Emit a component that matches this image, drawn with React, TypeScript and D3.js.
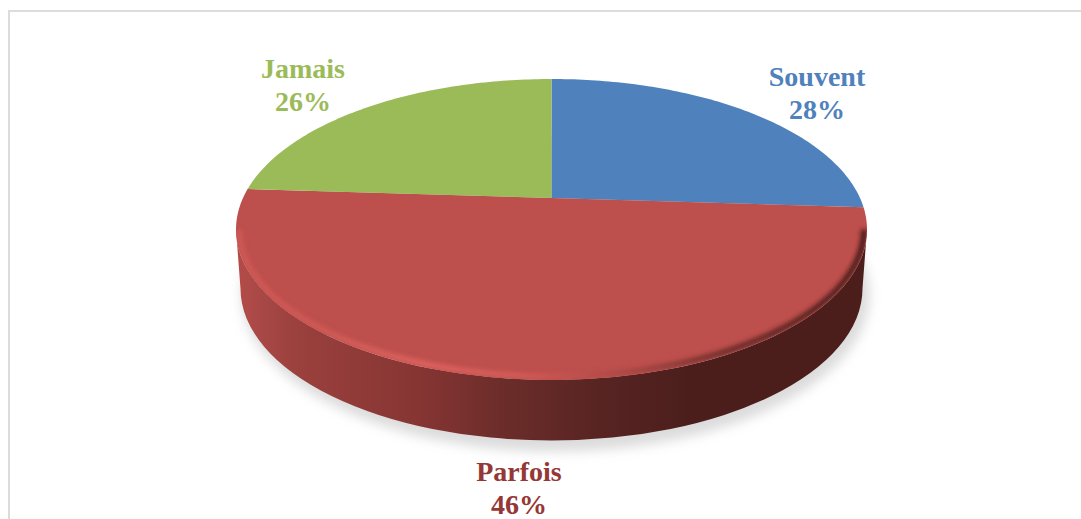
import React, { useMemo } from "react";
import * as d3 from "d3";

const categories = ["Souvent", "Parfois", "Jamais"];
const labelPercents = ["28%", "46%", "26%"];
// slice shares as drawn in the picture (the red slice spans a full half of the disc)
const drawnShares = [26, 50, 24];
const sliceColors = ["#4f81bd", "#bd4f4c", "#9bbb59"];
const labelColors = ["#4f81bd", "#953735", "#9bbb59"];
const labelPos = [
  { x: 817, y: 86 },
  { x: 519, y: 481 },
  { x: 303, y: 78 },
];

const W = 1081;
const H = 519;
const cx = 551.5;
const topY = 79;
const botY = 380;
const hubY = 198;
const rxTop = 315.5;

// Perspective projection of the unit disc onto the tilted top face
const c = (2 * hubY - topY - botY) / (botY - topY);
const a = botY + botY * c - hubY;
const s = rxTop * Math.sqrt(1 - c * c);
function project(u: number, v: number): [number, number] {
  const w = c * v + 1;
  return [cx + (s * u) / w, (a * v + hubY) / w];
}

function slicePath(a0: number, a1: number) {
  const line = d3.line();
  const pts: [number, number][] = [project(0, 0)];
  const n = Math.max(8, Math.round(((a1 - a0) * 180) / Math.PI));
  d3.range(n + 1).forEach((i) => {
    const t = a0 + ((a1 - a0) * i) / n;
    pts.push(project(Math.sin(t), -Math.cos(t)));
  });
  return line(pts) + "Z";
}

export default function App() {
  const arcs = useMemo(() => d3.pie<number>().sort(null)(drawnShares), []);
  const topCy = (topY + botY) / 2;
  const topRy = (botY - topY) / 2;
  const lowRx = 311;
  const lowRy = 152;
  const lowCy = 288.5;
  const wall = `M${cx - rxTop},${topCy} L${cx - lowRx},${lowCy} A${lowRx},${lowRy} 0 0 0 ${cx + lowRx},${lowCy} L${cx + rxTop},${topCy} A${rxTop},${topRy} 0 0 1 ${cx - rxTop},${topCy} Z`;
  const rimRx = rxTop - 3;
  const rimRy = topRy - 3.5;
  const rimArc = `M${cx - rimRx},${topCy} A${rimRx},${rimRy} 0 0 0 ${cx + rimRx},${topCy}`;
  return (
    <svg
      width={W}
      height={H}
      viewBox={`0 0 ${W} ${H}`}
      style={{ position: "absolute", left: 0, top: 0, background: "#fff" }}
    >
      <defs>
        <linearGradient id="wallG" gradientUnits="userSpaceOnUse" x1={cx - rxTop} x2={cx + rxTop} y1="0" y2="0">
          <stop offset="0.01" stopColor="#b24b48" />
          <stop offset="0.04" stopColor="#a84846" />
          <stop offset="0.1" stopColor="#9a403d" />
          <stop offset="0.29" stopColor="#863533" />
          <stop offset="0.42" stopColor="#6c2d2a" />
          <stop offset="0.58" stopColor="#572422" />
          <stop offset="0.72" stopColor="#4b1e1c" />
          <stop offset="1" stopColor="#4b1e1c" />
        </linearGradient>
        <linearGradient id="rimG" gradientUnits="userSpaceOnUse" x1={cx - rxTop} x2={cx + rxTop} y1="0" y2="0">
          <stop offset="0" stopColor="#cf5854" />
          <stop offset="0.15" stopColor="#d05a56" />
          <stop offset="0.3" stopColor="#de625e" />
          <stop offset="0.45" stopColor="#d25b57" />
          <stop offset="0.55" stopColor="#bd4f4c" />
          <stop offset="0.65" stopColor="#9e4340" />
          <stop offset="0.78" stopColor="#6e2d2b" />
          <stop offset="1" stopColor="#4b1e1c" />
        </linearGradient>
        <clipPath id="faceClip">
          <ellipse cx={cx} cy={topCy} rx={rxTop} ry={topRy} />
        </clipPath>
        <filter id="soft" x="-10%" y="-20%" width="120%" height="140%">
          <feGaussianBlur stdDeviation="2" />
        </filter>
        <filter id="shadow" x="-10%" y="-20%" width="120%" height="140%">
          <feGaussianBlur stdDeviation="6" />
        </filter>
      </defs>
      <path d="M9,519 V11 H1081" fill="none" stroke="#dcdcdc" strokeWidth={2} />
      <ellipse cx={cx + 4} cy={lowCy + 6} rx={lowRx + 3} ry={lowRy + 5} fill="#b8b8b8" opacity={0.5} filter="url(#shadow)" />
      <path d={wall} fill="url(#wallG)" />
      {arcs.map((d, i) => (
        <path key={categories[i]} d={slicePath(d.startAngle, d.endAngle)} fill={sliceColors[i]} />
      ))}
      <g clipPath="url(#faceClip)">
        <path d={rimArc} fill="none" stroke="url(#rimG)" strokeWidth={6} filter="url(#soft)" />
      </g>
      <g
        fontFamily="'Liberation Serif', 'Times New Roman', serif"
        fontWeight="bold"
        fontSize={28}
        textAnchor="middle"
      >
        {categories.map((name, i) => (
          <text key={name} fill={labelColors[i]}>
            <tspan x={labelPos[i].x} y={labelPos[i].y}>{name}</tspan>
            <tspan x={labelPos[i].x} y={labelPos[i].y + 33}>{labelPercents[i]}</tspan>
          </text>
        ))}
      </g>
    </svg>
  );
}
